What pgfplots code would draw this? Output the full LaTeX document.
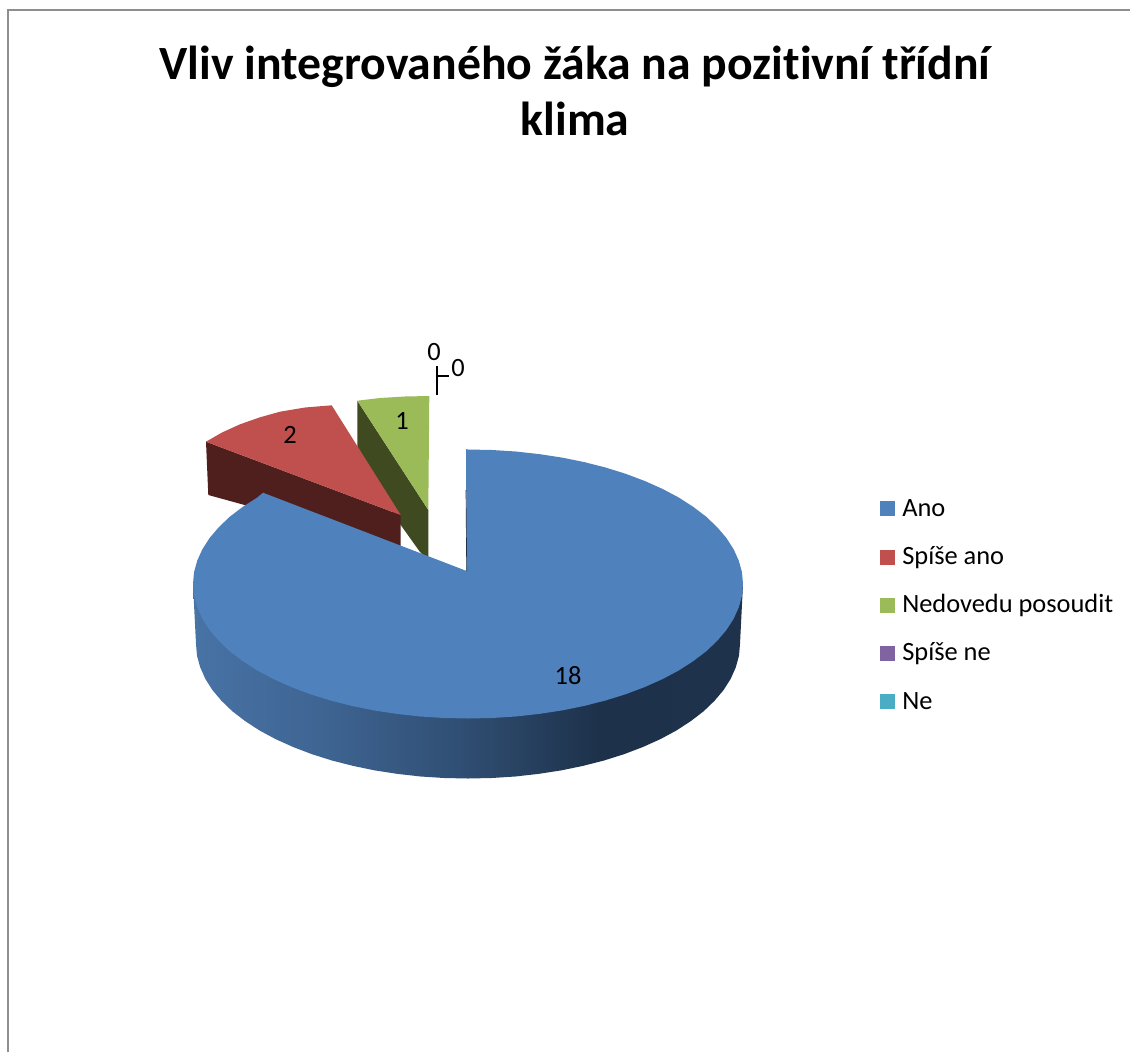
\documentclass[border=0pt]{standalone}
\usepackage{pgfplots}
\pgfplotsset{compat=1.18}
\usepackage{fontspec}
\setmainfont[Ligatures=NoCommon]{Carlito}
\definecolor{ano}{HTML}{4F81BD}
\definecolor{spiseano}{HTML}{C0504D}
\definecolor{nedovedu}{HTML}{9BBB59}
\definecolor{spisene}{HTML}{8064A2}
\definecolor{ne}{HTML}{4BACC6}
\definecolor{anoside}{HTML}{1D3148}
\definecolor{spiseanoside}{HTML}{4F1F1E}
\definecolor{nedoveduside}{HTML}{3F4A21}
\definecolor{frame}{HTML}{8E8E8E}
\definecolor{rimA}{RGB}{72,115,165}
\definecolor{rimB}{RGB}{62,100,146}
\definecolor{rimC}{RGB}{47,77,113}
\definecolor{rimD}{RGB}{29,49,74}
\definecolor{rimE}{RGB}{30,50,76}
% Rim of the large slice: lit on the left, dark from the front towards the right
\pgfdeclarehorizontalshading{rim}{100bp}{
  color(0bp)=(rimA);
  color(25bp)=(rimA);
  color(37bp)=(rimB);
  color(50bp)=(rimC);
  color(62bp)=(rimD);
  color(75bp)=(rimE);
  color(100bp)=(rimE)}
\begin{document}
\begin{tikzpicture}
\begin{axis}[
  hide axis, scale only axis, width=847.5pt, height=789pt,
  xmin=0, xmax=1130, ymin=0, ymax=1052, y dir=reverse, clip=true,
  every axis plot/.append style={no markers}]

% page background, which also fixes the extent of the picture
\addplot[fill=white, draw=none] coordinates {(0,0) (1130,0) (1130,1052) (0,1052)} -- cycle;

% chart frame
\addplot[frame, line width=1.5pt] coordinates {(7.5,1052) (7.5,10.5) (1130,10.5)};

% slice "Nedovedu posoudit" (1)
\addplot[fill=nedoveduside, draw=none] coordinates {(357.3,400.7) (428.3,510) (428.3,560) (420,552) (400,524) (357.3,455)} -- cycle;
\addplot[fill=nedovedu, draw=none] coordinates {(357.3,400.7) (380,398) (405,396.5) (429.3,396) (428.3,510)} -- cycle;

% slice "Spíše ano" (2)
\addplot[fill=spiseanoside, draw=none] coordinates {(206,441.7) (400.7,515) (400.7,548) (208.3,495)} -- cycle;
\addplot[fill=spiseano, draw=none] coordinates {(206,441.7) (222,432.5) (240,424.3) (260,417.3) (280,411.7) (305,407.5) (331.7,405.3) (400.7,515)} -- cycle;

% slice "Ano" (18): rim, then the top surface
\addplot[shade, shading=rim, draw=none] coordinates {
  (193,584) (196,644) (197,655.7) (200.2,667.3) (205.3,678.8) (212.4,690) (221.5,700.8)
  (232.4,711.3) (245.2,721.1) (259.6,730.5) (275.6,739.1) (293.1,747) (312,754.2)
  (332,760.5) (353.1,765.9) (374.9,770.4) (397.6,773.9) (420.8,776.5) (444.3,778) (468,778.5)
  (491.7,778) (515.2,776.5) (538.4,773.9) (561.1,770.4) (582.9,765.9) (604,760.5)
  (624,754.2) (642.9,747) (660.4,739.1) (676.4,730.5) (690.8,721.1) (703.6,711.3)
  (714.5,700.8) (723.6,690) (730.7,678.8) (735.8,667.3) (739,655.7) (740,644) (743,584)} -- cycle;
\addplot[fill=ano, draw=none] coordinates {
  (466,449) (468,449.5) (492,450) (515.7,451.5) (539.2,454.1) (562.1,457.6) (584.2,462.1)
  (605.5,467.5) (625.7,473.8) (644.8,481) (662.5,488.9) (678.7,497.5) (693.3,506.9)
  (706.2,516.7) (717.2,527.2) (726.4,538) (733.6,549.2) (738.8,560.7) (742,572.3) (743,584)
  (742,595.7) (738.8,607.3) (733.6,618.8) (726.4,630) (717.2,640.8) (706.2,651.3)
  (693.3,661.1) (678.7,670.5) (662.5,679.1) (644.8,687) (625.7,694.2) (605.5,700.5)
  (584.2,705.9) (562.1,710.4) (539.2,713.9) (515.7,716.5) (492,718) (468,718.5)
  (444,718) (420.3,716.5) (396.8,713.9) (373.9,710.4) (351.8,705.9) (330.5,700.5)
  (310.3,694.2) (291.2,687) (273.5,679.1) (257.3,670.5) (242.7,661.1) (229.8,651.3)
  (218.8,640.8) (209.6,630) (202.4,618.8) (197.2,607.3) (194,595.7) (193,584)
  (194,572.3) (197.2,560.7) (202.4,549.2) (209.6,538) (218.8,527.2) (229.8,516.7)
  (242.7,506.9) (257.3,497.5) (263,492.7) (466.7,571)} -- cycle;
\addplot[anoside, line width=0.5pt] coordinates {(466,490) (466.7,571)};

% leader lines of the two empty slices
\addplot[black, line width=1.2pt] coordinates {(437,366) (437,395)};
\addplot[black, line width=1.2pt] coordinates {(437,376) (449,376)};

% legend keys
\addplot[fill=ano, draw=none] coordinates {(880,500.7) (895,500.7) (895,515.7) (880,515.7)} -- cycle;
\addplot[fill=spiseano, draw=none] coordinates {(880,550) (895,550) (895,565) (880,565)} -- cycle;
\addplot[fill=nedovedu, draw=none] coordinates {(880,597.7) (895,597.7) (895,612.7) (880,612.7)} -- cycle;
\addplot[fill=spisene, draw=none] coordinates {(880,645.7) (895,645.7) (895,660.7) (880,660.7)} -- cycle;
\addplot[fill=ne, draw=none] coordinates {(880,694) (895,694) (895,709) (880,709)} -- cycle;

% title
\node[anchor=base, font=\fontsize{35.8}{42}\selectfont\bfseries] at (axis cs:575,80) {Vliv integrovaného žáka na pozitivní třídní};
\node[anchor=base, font=\fontsize{35.8}{42}\selectfont\bfseries] at (axis cs:575,136) {klima};

% value labels
\tikzset{val/.style={font=\fontsize{19.8}{24}\selectfont, anchor=base, inner sep=0pt}}
\node[val] at (axis cs:568,684) {18};
\node[val] at (axis cs:290,443) {2};
\node[val] at (axis cs:402,429) {1};
\node[val] at (axis cs:434,360) {0};
\node[val] at (axis cs:458,376) {0};

% legend texts
\tikzset{leg/.style={font=\fontsize{19.8}{24}\selectfont, anchor=base west, inner sep=0pt}}
\node[leg] at (axis cs:902,516) {Ano};
\node[leg] at (axis cs:902,564.5) {Spíše ano};
\node[leg] at (axis cs:902,612.7) {Nedovedu posoudit};
\node[leg] at (axis cs:902,660.7) {Spíše ne};
\node[leg] at (axis cs:902,709) {Ne};
\end{axis}
\end{tikzpicture}
\end{document}
